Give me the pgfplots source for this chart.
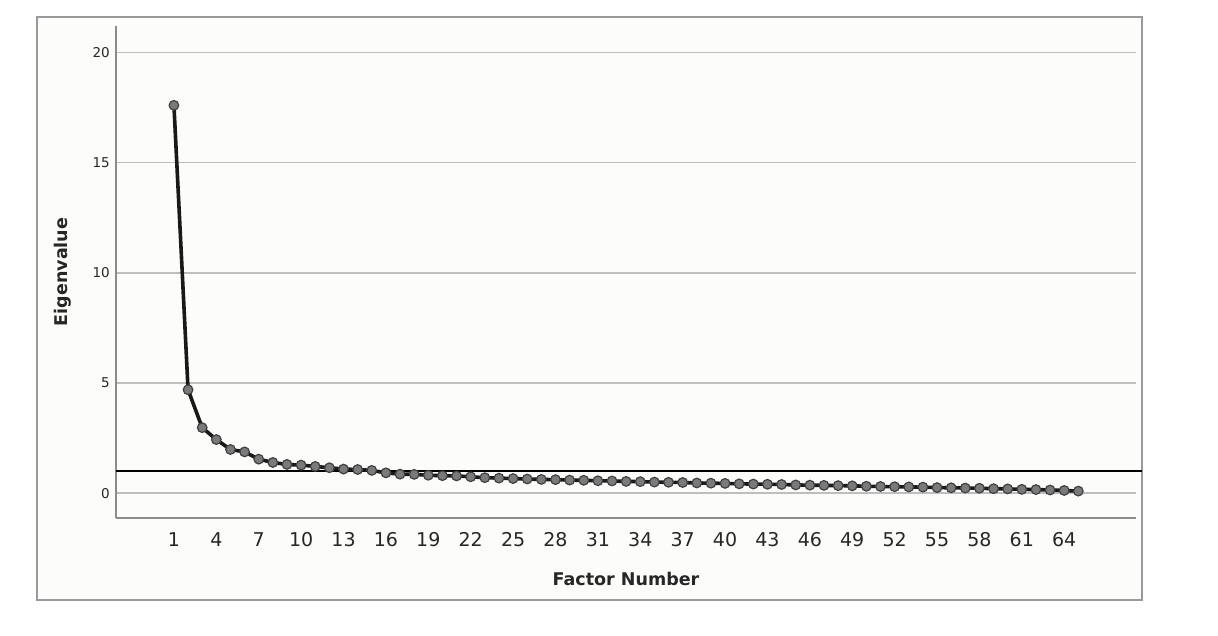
\documentclass[border=0pt]{standalone}
\usepackage{fontspec}
\setmainfont{DejaVu Sans}
\usepackage{pgfplots}
\pgfplotsset{compat=1.18}
\definecolor{gridc}{HTML}{BEBEBE}
\definecolor{axc}{HTML}{8C8C8C}
\definecolor{framec}{HTML}{9A9A9A}
\definecolor{bgc}{HTML}{FCFCFA}
\definecolor{markc}{HTML}{7A7A7A}
\pgfplotstableread{
f e
1 17.60
2 4.69
3 2.97
4 2.43
5 1.98
6 1.87
7 1.54
8 1.39
9 1.30
10 1.27
11 1.21
12 1.15
13 1.09
14 1.07
15 1.03
16 0.92
17 0.86
18 0.85
19 0.81
20 0.79
21 0.78
22 0.74
23 0.70
24 0.68
25 0.66
26 0.64
27 0.62
28 0.61
29 0.59
30 0.58
31 0.56
32 0.55
33 0.53
34 0.52
35 0.50
36 0.49
37 0.48
38 0.46
39 0.45
40 0.44
41 0.42
42 0.41
43 0.40
44 0.39
45 0.37
46 0.36
47 0.35
48 0.34
49 0.33
50 0.31
51 0.30
52 0.29
53 0.28
54 0.27
55 0.25
56 0.24
57 0.23
58 0.22
59 0.20
60 0.19
61 0.17
62 0.16
63 0.14
64 0.12
65 0.09
}\eigtab
\begin{document}
\begin{tikzpicture}[x=1pt,y=1pt]
\path[use as bounding box] (0,0) rectangle (1218,636);
\fill[bgc] (37,36) rectangle (1142,619);
\draw[framec, line width=1.3pt] (37,36) rectangle (1142,619);
\begin{axis}[
  at={(116pt,118pt)}, anchor=south west,
  scale only axis, width=1020pt, height=492pt,
  xmin=-3.10, xmax=69.08, ymin=-1.13, ymax=21.2,
  axis x line*=bottom, axis y line*=left,
  axis line style={axc, line width=1.8pt, -},
  xtick={1,4,...,64}, ytick={0,5,10,15,20},
  tick style={draw=none},
  ymajorgrids, grid style={gridc, line width=1.6pt},
  /pgf/number format/assume math mode=true,
  xticklabel style={font=\fontsize{19}{19}\selectfont, inner sep=0pt, anchor=north, yshift=-14pt, text=black!85},
  yticklabel style={font=\fontsize{13.5}{13.5}\selectfont, inner sep=0pt, anchor=east, xshift=-6pt, text=black!85},
  xlabel={Factor Number}, ylabel={Eigenvalue},
  xlabel style={font=\bfseries\fontsize{17.5}{17.5}\selectfont, text=black!85, at={(axis description cs:0.5,-0.124)}, anchor=center},
  ylabel style={font=\bfseries\fontsize{17.5}{17.5}\selectfont, text=black!85, at={(axis description cs:-0.052,0.5)}, anchor=center},
  clip=false,
]
\addplot[black, line width=1.5pt, forget plot] coordinates {(-3.10,1) (69.5,1)};
\addplot[black!90, line width=3.6pt, mark=*, mark size=4.8pt,
  mark options={fill=markc, draw=black!75, line width=1.2pt}] table[x=f, y=e] {\eigtab};
\end{axis}
\end{tikzpicture}
\end{document}
